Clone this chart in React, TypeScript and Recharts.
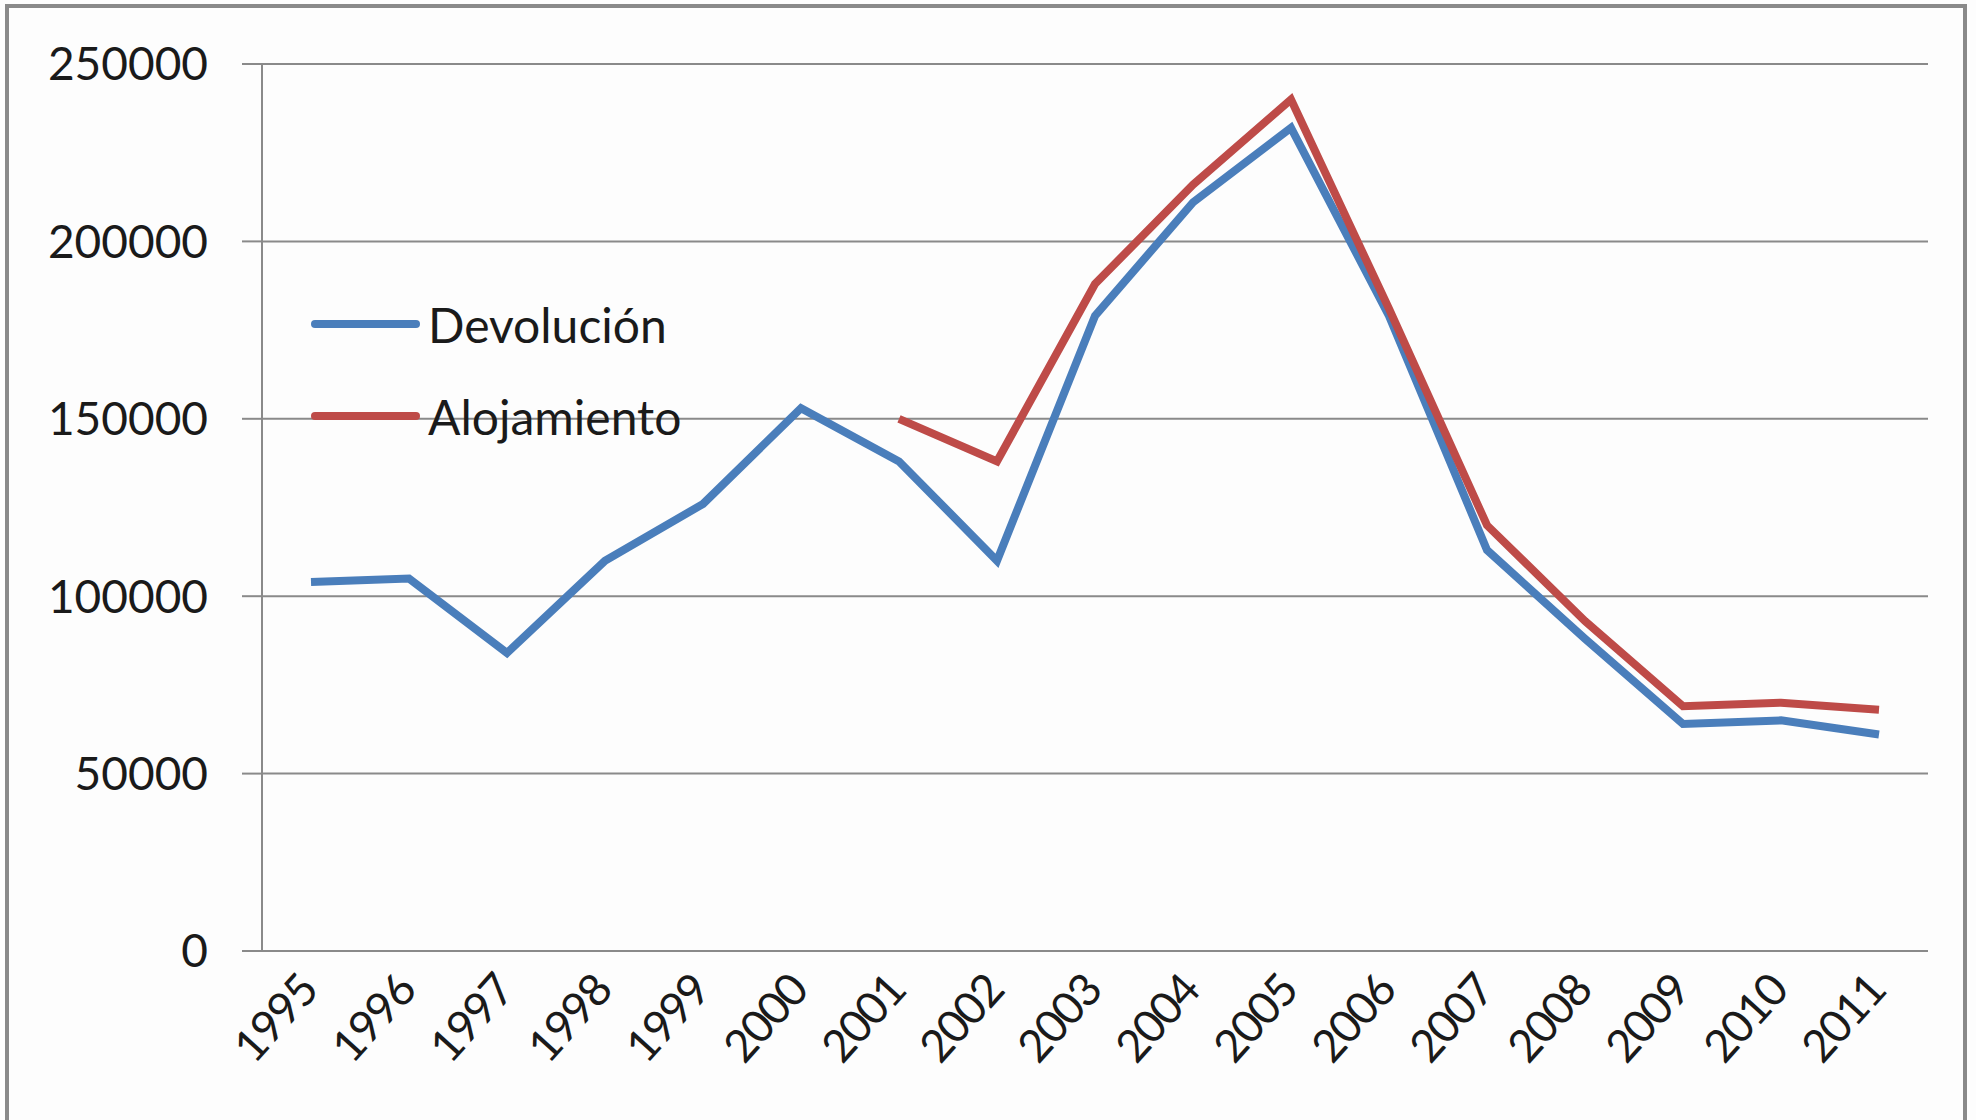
import { LineChart, Line, XAxis, YAxis, CartesianGrid, Legend } from "recharts"

const years = ["1995", "1996", "1997", "1998", "1999", "2000", "2001", "2002", "2003", "2004", "2005", "2006", "2007", "2008", "2009", "2010", "2011"]
const devolucion = [104000, 105000, 84000, 110000, 126000, 153000, 138000, 110000, 179000, 211000, 232000, 179000, 113000, 88000, 64000, 65000, 61000]
const alojamiento = [null, null, null, null, null, null, 150000, 138000, 188000, 216000, 240000, 181000, 120000, 93000, 69000, 70000, 68000]
const seriesNames = ["Devolución", "Alojamiento"]
const yTicks = [0, 50000, 100000, 150000, 200000, 250000]

// x positions: category centres on a 0..n numeric scale so tick marks sit on the boundaries (Excel style)
const data = years.map((year, i) => ({
  pos: i + 0.5,
  year,
  devolucion: devolucion[i],
  alojamiento: alojamiento[i],
}))
const boundaryTicks = years.map((_, i) => i).concat([years.length])
const centreTicks = years.map((_, i) => i + 0.5)

const FONT = "Lato, 'Open Sans', sans-serif"
const AXIS = "#8a8a8a"

function YearTick({ x, y, payload }: any) {
  const label = years[Math.floor(payload.value)]
  const tx = x + 9
  const ty = y + 24
  return (
    <text
      x={tx}
      y={ty}
      transform={`rotate(-48, ${tx}, ${ty})`}
      textAnchor="end"
      fontSize={45}
      letterSpacing={-1.5}
      fontFamily={FONT}
      fill="#1a1a1a"
    >
      {label}
    </text>
  )
}

function LegendBox({ payload }: any) {
  const items = [...(payload || [])].sort((a: any, b: any) => seriesNames.indexOf(a.value) - seriesNames.indexOf(b.value))
  return (
    <div>
      {items.map((item: any) => (
        <div key={item.value} style={{ display: "flex", alignItems: "center", height: 92 }}>
          <div style={{ width: 109, height: 8, borderRadius: 4, background: item.color }} />
          <span style={{ fontFamily: FONT, fontSize: 48, color: "#1a1a1a", marginLeft: 8 }}>{item.value}</span>
        </div>
      ))}
    </div>
  )
}

export default function App() {
  return (
    <div style={{ position: "relative", width: 1976, height: 1120, overflow: "hidden", background: "#fdfdfd" }}>
      <style>{`body { margin: 0; }`}</style>
      <div
        style={{
          position: "absolute",
          left: 5,
          top: 4,
          width: 1962,
          height: 1200,
          border: "4px solid #8a8a8a",
          boxSizing: "border-box",
        }}
      />
      <div style={{ position: "absolute", left: 0, top: 0 }}>
        <LineChart width={1976} height={1120} data={data} margin={{ top: 64, right: 48, bottom: 0, left: 0 }}>
          <CartesianGrid vertical={false} stroke={AXIS} strokeWidth={2} xAxisId="lbl" />
          <XAxis
            xAxisId="edge"
            type="number"
            dataKey="pos"
            domain={[0, years.length]}
            ticks={boundaryTicks}
            tick={false}
            tickSize={17}
            height={17}
            stroke={AXIS}
            strokeWidth={2}
          />
          <XAxis
            xAxisId="lbl"
            type="number"
            dataKey="pos"
            domain={[0, years.length]}
            ticks={centreTicks}
            axisLine={false}
            tickLine={false}
            tickSize={0}
            tickMargin={0}
            interval={0}
            height={152}
            tick={<YearTick />}
          />
          <YAxis
            domain={[0, 250000]}
            ticks={yTicks}
            width={262}
            tickSize={20}
            tickMargin={34}
            stroke={AXIS}
            strokeWidth={2}
            tick={{ fontSize: 46, fontFamily: FONT, fill: "#1a1a1a" }}
          />
          <Legend
            layout="vertical"
            align="center"
            verticalAlign="middle"
            content={<LegendBox />}
            wrapperStyle={{ position: "absolute", left: 311, top: 278, width: 440 }}
          />
          <Line
            xAxisId="lbl"
            type="linear"
            dataKey="devolucion"
            name={seriesNames[0]}
            stroke="#4a7ebb"
            strokeWidth={8}
            dot={false}
            isAnimationActive={false}
          />
          <Line
            xAxisId="lbl"
            type="linear"
            dataKey="alojamiento"
            name={seriesNames[1]}
            stroke="#be4b48"
            strokeWidth={8}
            dot={false}
            isAnimationActive={false}
          />
        </LineChart>
      </div>
    </div>
  )
}
